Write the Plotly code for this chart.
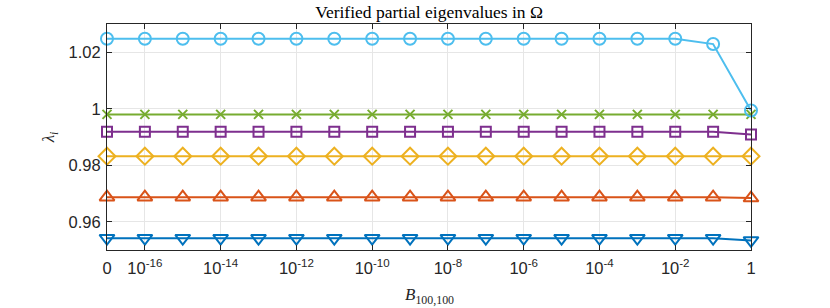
import plotly.graph_objects as go

x_labels = ["0", "1e-16", "1e-15", "1e-14", "1e-13", "1e-12", "1e-11", "1e-10", "1e-9",
            "1e-8", "1e-7", "1e-6", "1e-5", "1e-4", "1e-3", "1e-2", "1e-1", "1"]
x_idx = list(range(len(x_labels)))
tick_idx = [0, 1, 3, 5, 7, 9, 11, 13, 15, 17]
tick_text = ["0", "10<sup>-16</sup>", "10<sup>-14</sup>", "10<sup>-12</sup>", "10<sup>-10</sup>",
             "10<sup>-8</sup>", "10<sup>-6</sup>", "10<sup>-4</sup>", "10<sup>-2</sup>", "1"]
y_ticks = [0.96, 0.98, 1.0, 1.02]
y_tick_text = ["0.96", "0.98", "1", "1.02"]

lam1 = [0.9542] * 17 + [0.9534]
lam2 = [0.9687] * 17 + [0.9684]
lam3 = [0.9832] * 17 + [0.9832]
lam4 = [0.9919] * 17 + [0.9909]
lam5 = [0.9980] * 17 + [0.9980]
lam6 = [1.0248] * 16 + [1.0229, 0.9994]

series = [
    (lam1, "#0072BD", "triangle-down-open", 13),
    (lam2, "#D95319", "triangle-up-open", 13),
    (lam3, "#EDB120", "diamond-open", 13),
    (lam4, "#7E2F8E", "square-open", 10),
    (lam5, "#77AC30", "x-thin-open", 9),
    (lam6, "#4DBEEE", "circle-open", 12),
]

fig = go.Figure()
for ys, col, sym, sz in series:
    fig.add_trace(go.Scatter(
        x=x_idx, y=ys, mode="lines+markers",
        line=dict(color=col, width=2),
        marker=dict(symbol=sym, size=sz, color=col, line=dict(color=col, width=2)),
        showlegend=False, cliponaxis=False))

axis_common = dict(showline=True, linecolor="#262626", linewidth=1, mirror="ticks",
                   ticks="inside", ticklen=5, tickcolor="#262626", automargin=False,
                   showgrid=True, gridcolor="#E6E6E6", gridwidth=1, zeroline=False,
                   tickfont=dict(family="Liberation Sans, Arial, sans-serif", size=16.5, color="#262626"))

fig.update_layout(
    width=830, height=308,
    margin=dict(l=107, r=79, t=24, b=58, autoexpand=False),
    paper_bgcolor="white", plot_bgcolor="white",
    title=dict(text="Verified partial eigenvalues in Ω", x=0.517, xanchor="center",
               y=0.962, yanchor="middle", automargin=False,
               font=dict(family="Liberation Serif, Times New Roman, serif", size=17.5, color="#000")),
    xaxis=dict(range=[0, 17], tickvals=tick_idx, ticktext=tick_text, ticklabelstandoff=3,
               **axis_common),
    yaxis=dict(range=[0.95, 1.03], tickvals=y_ticks, ticktext=y_tick_text, ticklabelstandoff=2,
               **axis_common),
    annotations=[
        dict(text="<i>B</i><sub>100,100</sub>", xref="paper", yref="paper", x=0.5, y=-0.205,
             xanchor="center", yanchor="middle", showarrow=False,
             font=dict(family="Liberation Serif, serif", size=17, color="#262626")),
        dict(text="<i>λ</i><sub><i>i</i></sub>", xref="paper", yref="paper", x=-0.088, y=0.5,
             xanchor="center", yanchor="middle", showarrow=False, textangle=-90,
             font=dict(family="Liberation Serif, serif", size=17, color="#262626")),
    ],
)

fig.write_html("out.html", config={"displayModeBar": False},
               post_script="document.body.style.margin='0';document.body.style.overflow='hidden';")
